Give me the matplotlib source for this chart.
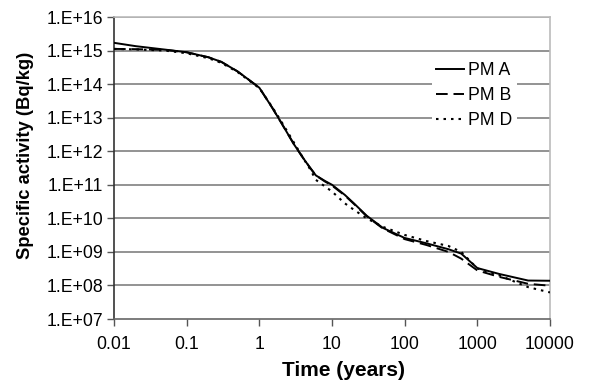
import matplotlib
matplotlib.use("Agg")
import matplotlib.pyplot as plt
from matplotlib.ticker import FixedLocator, NullLocator

plt.rcParams['font.family'] = ['Liberation Sans', 'DejaVu Sans']

time_years = [0.01, 0.02, 0.05, 0.1, 0.2, 0.3, 0.5, 0.7, 1, 1.5, 2, 3, 4, 5, 6, 8,
              10, 15, 20, 30, 50, 100, 200, 400, 600, 1000, 2000, 5000, 10000]

pm_a = [1.7e15, 1.35e15, 1.07e15, 8.9e14, 6.3e14, 4.6e14, 2.4e14, 1.4e14, 7.8e13,
        2.0e13, 7.1e12, 1.6e12, 6.3e11, 3.2e11, 1.9e11, 1.3e11,
        1.0e11, 5.0e10, 2.8e10, 1.2e10, 5.2e9, 2.6e9, 1.8e9, 1.2e9, 8.9e8,
        3.3e8, 2.2e8, 1.4e8, 1.38e8]

pm_b = [1.12e15, 1.1e15, 1.05e15, 8.9e14, 6.3e14, 4.6e14, 2.4e14, 1.4e14, 7.8e13,
        2.0e13, 7.1e12, 1.6e12, 6.3e11, 3.2e11, 1.9e11, 1.25e11,
        9.5e10, 4.8e10, 2.7e10, 1.15e10, 5.0e9, 2.4e9, 1.6e9, 1.0e9, 6.3e8,
        2.8e8, 1.8e8, 1.12e8, 9.8e7]

pm_d = [1.12e15, 1.08e15, 1.0e15, 8.3e14, 5.9e14, 4.3e14, 2.3e14, 1.35e14, 7.6e13,
        2.1e13, 7.8e12, 1.8e12, 6.3e11, 2.9e11, 1.4e11, 8.9e10,
        6.3e10, 2.8e10, 1.8e10, 1.0e10, 5.6e9, 3.2e9, 2.1e9, 1.5e9, 1.0e9,
        3.2e8, 2.0e8, 8.9e7, 6.2e7]

x_ticks = [0.01, 0.1, 1, 10, 100, 1000, 10000]
x_tick_labels = ["0.01", "0.1", "1", "10", "100", "1000", "10000"]
y_ticks = [10.0 ** k for k in range(7, 17)]
y_tick_labels = ["1.E+%02d" % k for k in range(7, 17)]

fig = plt.figure(figsize=(5.94, 3.80), dpi=100)
ax = fig.add_axes([114 / 594, 1 - 319 / 380, (550 - 114) / 594, (319 - 17) / 380])

ax.set_xscale('log')
ax.set_yscale('log')
ax.set_xlim(0.01, 10000)
ax.set_ylim(1e7, 1e16)

for yv in y_ticks[1:]:
    ax.axhline(yv, color='#8a8a8a', lw=1.3, zorder=1)

ax.plot(time_years, pm_a, color='black', lw=1.4, ls='-', label='PM A', zorder=3)
ax.plot(time_years, pm_b, color='black', lw=1.4, ls=(0, (6, 3)), label='PM B', zorder=3)
ax.plot(time_years, pm_d, color='black', lw=1.5, ls=(0, (1.2, 2.4)), label='PM D', zorder=3)

ax.xaxis.set_major_locator(FixedLocator(x_ticks))
ax.xaxis.set_minor_locator(NullLocator())
ax.set_xticklabels(x_tick_labels)
ax.yaxis.set_major_locator(FixedLocator(y_ticks))
ax.yaxis.set_minor_locator(NullLocator())
ax.set_yticklabels(y_tick_labels)

ax.tick_params(axis='both', which='major', labelsize=12.7, direction='out',
               length=5, width=1, color='#555555', pad=3)
ax.tick_params(axis='x', pad=7)

for s in ['top', 'right']:
    ax.spines[s].set_color('#bbbbbb')
    ax.spines[s].set_linewidth(1.2)
ax.spines['left'].set_color('#333333')
ax.spines['left'].set_linewidth(1.2)
ax.spines['bottom'].set_color('#666666')
ax.spines['bottom'].set_linewidth(1.2)

fig.text(344 / 594, 1 - 370 / 380, 'Time (years)', fontsize=15, fontweight='bold',
         ha='center', va='center')
fig.text(26 / 594, 1 - 155 / 380, 'Specific activity (Bq/kg)', fontsize=13.2,
         fontweight='bold', ha='center', va='center', rotation=90)

leg = ax.legend(loc='upper left', bbox_to_anchor=((436 - 4 - 114) / 436, (319 - 58) / 302),
                frameon=True, fontsize=12.7, handlelength=1.55, handletextpad=0.25,
                labelspacing=0.45, borderpad=0.25, borderaxespad=0)
leg.get_frame().set_edgecolor('none')
leg.get_frame().set_facecolor('white')
leg.get_frame().set_alpha(1)
leg.get_frame().set_boxstyle('square', pad=0)

fig.savefig('out.png', dpi=100)
